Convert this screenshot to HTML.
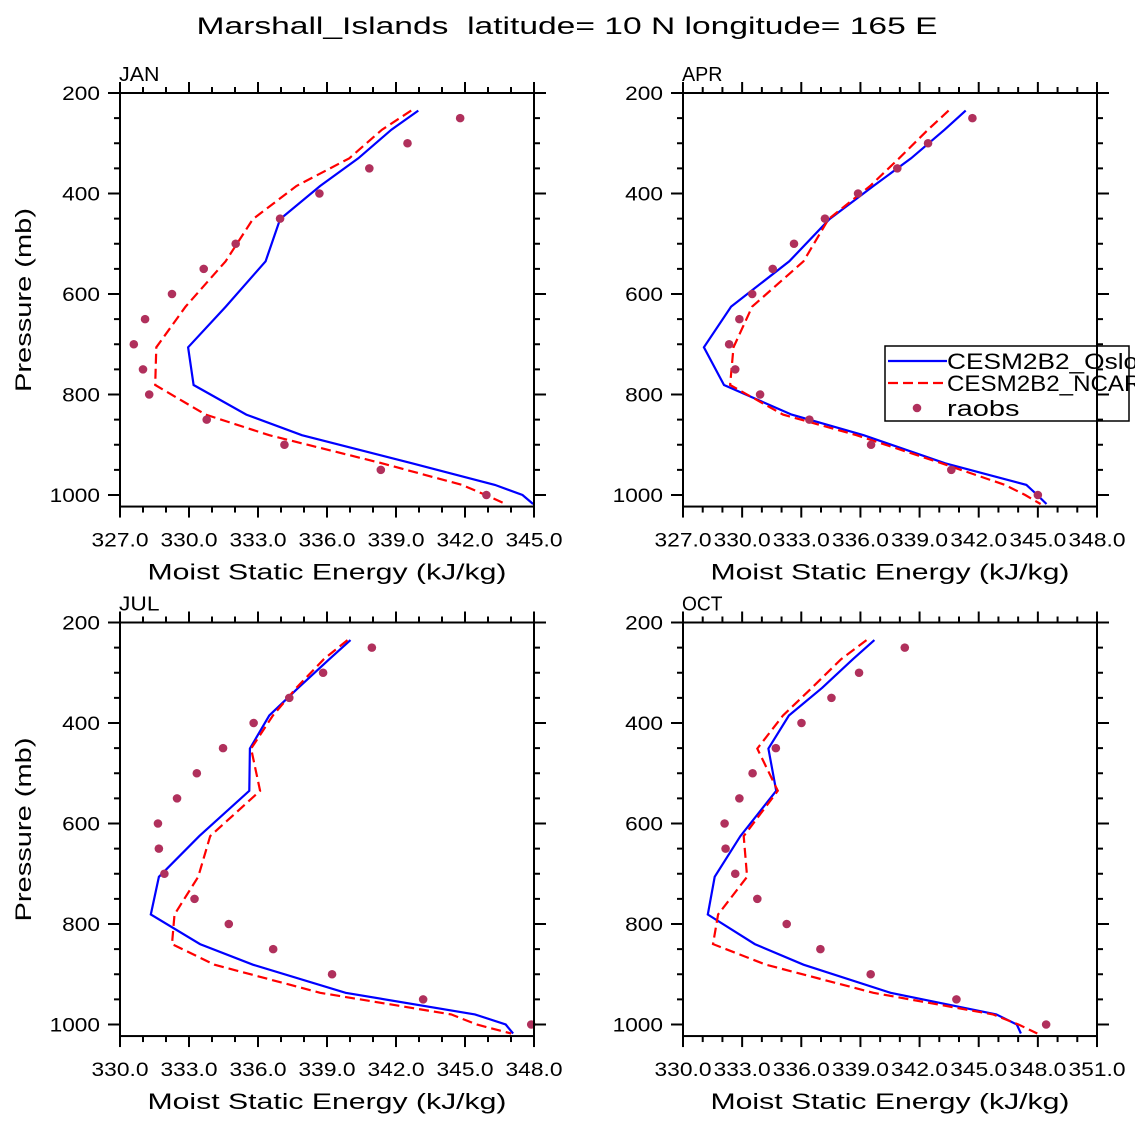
<!DOCTYPE html>
<html><head><meta charset="utf-8"><style>
html,body{margin:0;padding:0;background:#fff;}
svg{display:block;font-family:"Liberation Sans",sans-serif;}
</style></head><body>
<svg id="chart" width="1135" height="1135" viewBox="0 0 1135 1135">
<text x="567" y="34" text-anchor="middle" font-size="24" textLength="741" lengthAdjust="spacingAndGlyphs" style="white-space:pre">Marshall_Islands  latitude= 10 N longitude= 165 E</text>
</svg>
<script>
const modelLevels = [235, 273, 330, 385, 451, 535, 625, 706, 781, 840, 881, 937, 980, 1000, 1018];
const obsLevels = [250, 300, 350, 400, 450, 500, 550, 600, 650, 700, 750, 800, 850, 900, 950, 1000];
const panelNames = ["JAN", "APR", "JUL", "OCT"];
const xMins = [327, 327, 330, 330];
const xMaxs = [345, 348, 348, 351];
const janOslo = [339.97, 338.8, 337.36, 335.7, 333.96, 333.33, 331.6, 329.96, 330.2, 332.49, 334.91, 339.7, 343.3, 344.5, 344.96];
const janNcar = [339.66, 338.39, 336.97, 334.67, 332.78, 331.59, 329.85, 328.58, 328.53, 330.72, 333.49, 338.39, 341.87, 342.9, 343.77];
const janObs = [341.79, 339.5, 337.84, 335.67, 333.96, 332.03, 330.64, 329.26, 328.09, 327.6, 328.0, 328.27, 330.77, 334.15, 338.34, 342.93];
const aprOslo = [341.34, 340.27, 338.57, 336.66, 334.43, 332.39, 329.44, 328.06, 329.08, 332.51, 336.16, 340.3, 344.42, 344.97, 345.44];
const aprNcar = [340.47, 339.43, 337.96, 336.49, 334.38, 333.11, 330.51, 329.56, 329.39, 332.07, 335.8, 340.12, 343.33, 344.36, 345.14];
const aprObs = [341.68, 339.43, 337.87, 335.88, 334.2, 332.63, 331.55, 330.51, 329.86, 329.34, 329.65, 330.91, 333.41, 336.54, 340.61, 345.0];
const julOslo = [340.02, 339.1, 337.75, 336.49, 335.65, 335.62, 333.45, 331.69, 331.34, 333.48, 335.78, 339.81, 345.43, 346.77, 347.09];
const julNcar = [339.89, 338.86, 337.67, 336.65, 335.7, 336.09, 333.92, 333.4, 332.37, 332.26, 334.11, 338.7, 344.4, 345.51, 347.01];
const julObs = [340.95, 338.83, 337.36, 335.81, 334.48, 333.34, 332.48, 331.65, 331.69, 331.93, 333.24, 334.73, 336.66, 339.22, 343.18, 347.88];
const octOslo = [339.71, 338.62, 337.06, 335.37, 334.33, 334.73, 332.91, 331.61, 331.26, 333.64, 336.11, 340.53, 345.89, 346.93, 347.14];
const octNcar = [339.31, 338.02, 336.54, 335.07, 333.77, 334.81, 333.08, 333.25, 331.78, 331.52, 334.21, 339.66, 345.72, 347.02, 347.97];
const octObs = [341.25, 338.93, 337.53, 336.01, 334.71, 333.53, 332.86, 332.11, 332.16, 332.65, 333.77, 335.26, 336.97, 339.52, 343.87, 348.42];
const osloSeries = [janOslo, aprOslo, julOslo, octOslo];
const ncarSeries = [janNcar, aprNcar, julNcar, octNcar];
const obsSeries = [janObs, aprObs, julObs, octObs];
const yTickLabels = ["200", "400", "600", "800", "1000"];
const legendLabels = ["CESM2B2_Oslo_ctl", "CESM2B2_NCAR_ctl", "raobs"];

const NS = "http://www.w3.org/2000/svg";
const svg = document.getElementById("chart");
function mk(tag, attrs, parent) {
  const e = document.createElementNS(NS, tag);
  for (const k in attrs) e.setAttribute(k, attrs[k]);
  (parent || svg).appendChild(e);
  return e;
}
const origins = [[120, 93], [683, 93], [120, 622.5], [683, 622.5]];
const W = 414, PTOP = 200, PBOT = 1023, PXMB = 0.5025;

panelNames.forEach((nm, i) => {
  const [x0, y0] = origins[i];
  const xmin = xMins[i], xmax = xMaxs[i];
  const xs = v => x0 + (v - xmin) / (xmax - xmin) * W;
  const ys = p => y0 + (p - PTOP) * PXMB;
  const H = (PBOT - PTOP) * PXMB;
  const g = mk("g", {});
  
  
  const lab = mk("text", {x: x0 - 1, y: y0 - 12, "font-size": 20, textLength: nm.length * 13.5, lengthAdjust: "spacingAndGlyphs"}, g);
  lab.textContent = nm;
  
  

  const line = (arr, color, dash, name) => {
    const pts = arr.map((v, k) => xs(v).toFixed(1) + "," + ys(modelLevels[k]).toFixed(1)).join(" ");
    const pl = mk("polyline", {points: pts, fill: "none", stroke: color, "stroke-width": 2.2, "stroke-dasharray": dash}, g);
    
    
  };
  line(osloSeries[i], "#0000ff", "none", "oslo-line");
  line(ncarSeries[i], "#ff0000", "10,5", "ncar-line");
  obsSeries[i].forEach((v, k) => {
    const c = mk("circle", {cx: xs(v), cy: ys(obsLevels[k]), r: 4.3, fill: "#b0305c"}, g);
    
    
  });

  if (i === 1) {
    const lg = mk("g", {}, g);
    
    
    mk("rect", {x: 885, y: 346, width: 244, height: 75, fill: "#fff", stroke: "#000", "stroke-width": 1.5}, lg);
    const cp = mk("clipPath", {id: "lgclip"}, lg);
    mk("rect", {x: 885, y: 346, width: 250, height: 75}, cp);
    const rows = [361, 383, 408];
    mk("line", {x1: 888, y1: rows[0], x2: 947, y2: rows[0], stroke: "#0000ff", "stroke-width": 2.2}, lg);
    mk("line", {x1: 888, y1: rows[1], x2: 947, y2: rows[1], stroke: "#ff0000", "stroke-width": 2.2, "stroke-dasharray": "10,5"}, lg);
    mk("circle", {cx: 917, cy: rows[2], r: 4.3, fill: "#b0305c"}, lg);
    legendLabels.forEach((t, k) => {
      const tx = mk("text", {x: 947, y: rows[k] + 8, "font-size": 22, textLength: t.length * 14.5, lengthAdjust: "spacingAndGlyphs", "clip-path": "url(#lgclip)"}, lg);
      tx.textContent = t;
      
      
    });
  }

  const fr = mk("rect", {x: x0, y: y0, width: W, height: H, fill: "none", stroke: "#000", "stroke-width": 2}, g);
  
  

  for (let v = xmin; v <= xmax + 0.001; v += 1) {
    const major = Math.round(v - xmin) % 3 === 0;
    const L = major ? 11 : 6;
    const x = xs(v);
    mk("line", {x1: x, y1: y0, x2: x, y2: y0 - L, stroke: "#000", "stroke-width": 2}, g);
    mk("line", {x1: x, y1: y0 + H, x2: x, y2: y0 + H + L, stroke: "#000", "stroke-width": 2}, g);
    if (major) {
      const t = mk("text", {x: x, y: y0 + H + 40, "font-size": 19.5, "text-anchor": "middle", textLength: 57, lengthAdjust: "spacingAndGlyphs"}, g);
      t.textContent = v.toFixed(1);
      
      
    }
  }
  for (let p = 200; p <= 1000; p += 50) {
    const major = p % 200 === 0;
    const L = major ? 12 : 6;
    const y = ys(p);
    mk("line", {x1: x0, y1: y, x2: x0 - L, y2: y, stroke: "#000", "stroke-width": 2}, g);
    mk("line", {x1: x0 + W, y1: y, x2: x0 + W + L, y2: y, stroke: "#000", "stroke-width": 2}, g);
  }
  yTickLabels.forEach(s => {
    const t = mk("text", {x: x0 - 20, y: ys(+s) + 7, "font-size": 19.5, "text-anchor": "end", textLength: s.length * 12.6, lengthAdjust: "spacingAndGlyphs"}, g);
    t.textContent = s;
    
    
  });
  const xt = mk("text", {x: x0 + 207, y: y0 + H + 73, "font-size": 22, "text-anchor": "middle", textLength: 359, lengthAdjust: "spacingAndGlyphs"}, g);
  xt.textContent = "Moist Static Energy (kJ/kg)";
  
  
  if (i % 2 === 0) {
    const cy = y0 + 207;
    const yt = mk("text", {x: 0, y: 0, "font-size": 22, "text-anchor": "middle", textLength: 184, lengthAdjust: "spacingAndGlyphs", transform: "translate(31," + cy + ") rotate(-90)"}, g);
    yt.textContent = "Pressure (mb)";
    
    
  }
});
</script>
</body></html>
